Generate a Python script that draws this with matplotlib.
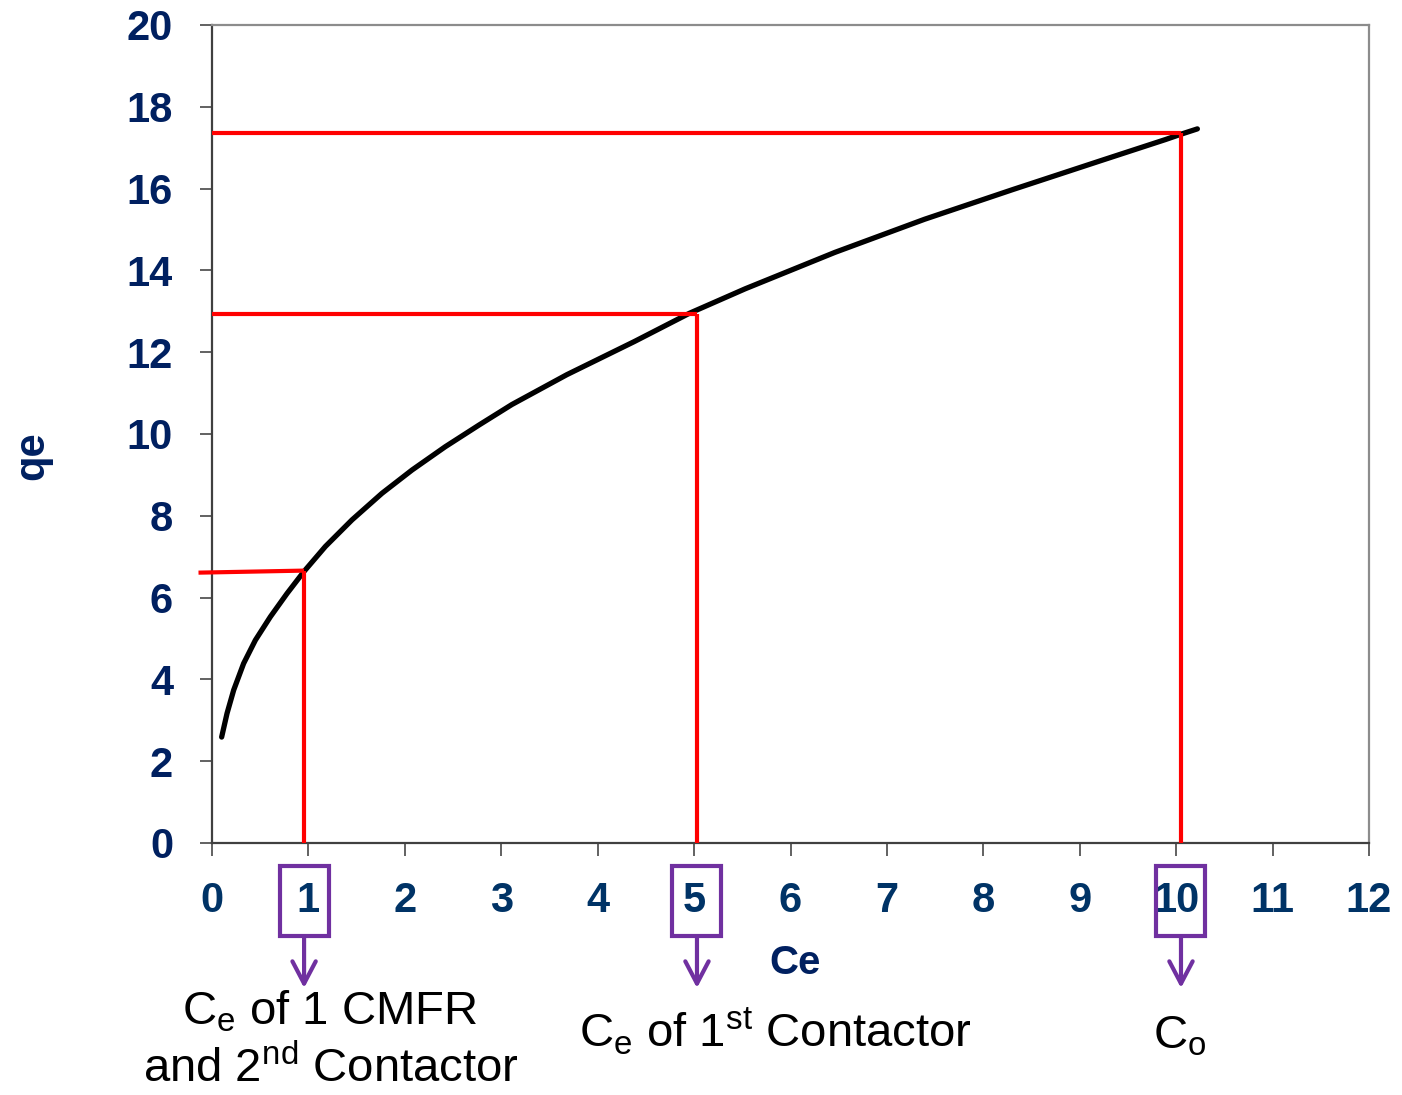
import numpy as np
import matplotlib
matplotlib.use('Agg')
import matplotlib.pyplot as plt
from matplotlib.patches import Rectangle
from matplotlib.transforms import blended_transform_factory

plt.rcParams['font.family'] = ['Liberation Sans', 'DejaVu Sans']
plt.rcParams['mathtext.fontset'] = 'custom'
plt.rcParams['mathtext.rm'] = 'Liberation Sans'
plt.rcParams['mathtext.it'] = 'Liberation Sans:italic'
plt.rcParams['mathtext.bf'] = 'Liberation Sans:bold'

# isotherm curve (Ce, qe)
ce = [0.10, 0.156, 0.225, 0.328, 0.45, 0.605, 0.778, 0.951, 1.176, 1.452,
      1.763, 2.075, 2.42, 2.77, 3.11, 3.68, 4.38, 4.95, 5.53, 6.46, 7.39,
      8.31, 9.24, 9.89, 10.05, 10.22]
qe = [2.59, 3.17, 3.74, 4.39, 4.96, 5.53, 6.10, 6.63, 7.25, 7.90,
      8.55, 9.12, 9.69, 10.22, 10.72, 11.45, 12.26, 12.95, 13.55, 14.44, 15.25,
      15.98, 16.70, 17.20, 17.33, 17.46]

# red read-off lines: corner point on the curve + where the horizontal starts
ce_mark = [0.955, 5.03, 10.05]
qe_mark = [6.66, 12.93, 17.37]
h_start_x = [-0.14, 0, 0]
h_start_y = [6.61, 12.93, 17.37]

x_ticks = list(range(0, 13))
y_ticks = list(range(0, 21, 2))

navy = '#002060'
purple = '#7030A0'

fig = plt.figure(figsize=(14.02, 10.95), dpi=100)
ax = fig.add_axes([212/1402, 1 - 843/1095, (1369-212)/1402, (843-25)/1095])

ax.plot(ce, qe, color='black', lw=3.8, solid_capstyle='round', solid_joinstyle='round', zorder=3)

for i in range(len(ce_mark)):
    ax.plot([h_start_x[i], ce_mark[i]], [h_start_y[i], qe_mark[i]], color='#FF0000', lw=3.0,
            clip_on=False, zorder=4, solid_capstyle='butt')
    ax.plot([ce_mark[i], ce_mark[i]], [qe_mark[i], 0], color='#FF0000', lw=3.0,
            zorder=4, solid_capstyle='butt')

ax.set_xlim(0, 12)
ax.set_ylim(0, 20)
ax.set_xticks(x_ticks)
ax.set_yticks(y_ticks)

for s in ['left', 'bottom']:
    ax.spines[s].set_color('#404040')
    ax.spines[s].set_linewidth(1.6)
for s in ['top', 'right']:
    ax.spines[s].set_color('#8c8c8c')
    ax.spines[s].set_linewidth(1.6)

ax.tick_params(axis='both', direction='out', length=9, width=1.3, color='#555555')
ax.tick_params(axis='x', pad=18, labelsize=30, labelcolor='#003366')
ax.tick_params(axis='y', pad=19, labelsize=30, labelcolor=navy)
for lab in ax.get_xticklabels() + ax.get_yticklabels():
    lab.set_fontweight('bold')

# axis titles
fig.text(32/1402, 1 - 456/1095, 'qe', rotation=90, ha='center', va='center',
         fontsize=30, fontweight='bold', color=navy)
fig.text(795/1402, 1 - 963/1095, 'Ce', ha='center', va='center',
         fontsize=29, fontweight='bold', color=navy)

# ---------------- purple boxes round the tick labels + arrows ----------------
trans = blended_transform_factory(ax.transData, ax.transAxes)
box_w = 0.508
box_top = -0.0281
box_bot = -0.1137
arrow_tip = -0.1773
for x in ce_mark:
    ax.add_patch(Rectangle((x - box_w/2, box_bot), box_w, box_top - box_bot, transform=trans,
                           fill=False, edgecolor=purple, lw=3.0, clip_on=False, zorder=5))
    ax.annotate('', xy=(x, arrow_tip), xytext=(x, box_bot), xycoords=trans, textcoords=trans,
                arrowprops=dict(arrowstyle='->,head_length=0.8,head_width=0.42', color=purple,
                                lw=3.0, shrinkA=0, shrinkB=0, mutation_scale=20),
                annotation_clip=False)

# captions under the arrows
fig.text(330/1402, 1 - 1025/1095, r'C$_\mathrm{e}$ of 1 CMFR', ha='center', va='baseline',
         fontsize=34, color='black')
fig.text(331/1402, 1 - 1082/1095, r'and 2$^\mathrm{nd}$ Contactor', ha='center', va='baseline',
         fontsize=34, color='black')
fig.text(775/1402, 1 - 1047/1095, r'C$_\mathrm{e}$ of 1$^\mathrm{st}$ Contactor', ha='center',
         va='baseline', fontsize=34, color='black')
fig.text(1180/1402, 1 - 1048/1095, r'C$_\mathrm{o}$', ha='center', va='baseline',
         fontsize=34, color='black')

plt.savefig('out.png', dpi=100)
